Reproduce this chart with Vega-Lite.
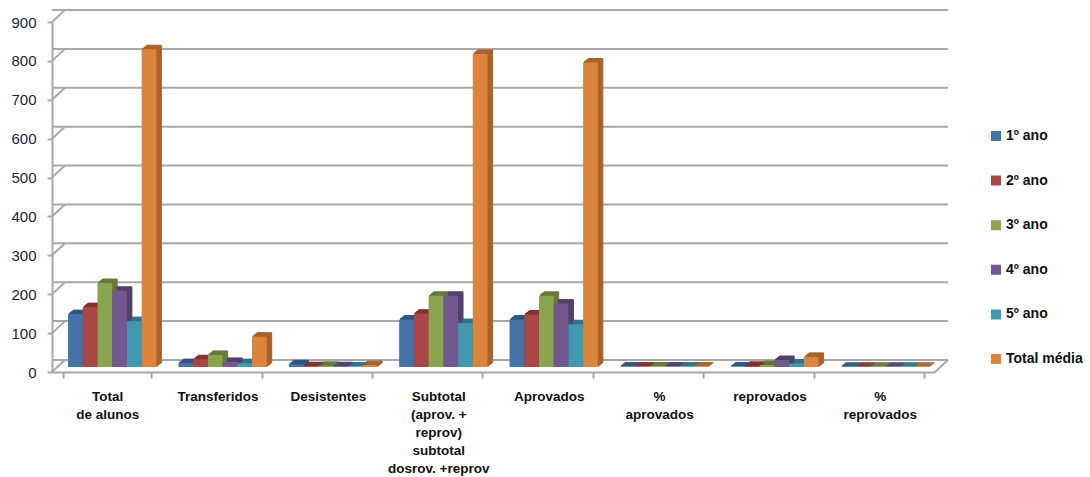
{"$schema":"https://vega.github.io/schema/vega-lite/v6.json","width":883,"height":350,"autosize":"none","padding":{"left":52,"top":22,"right":155,"bottom":105},"background":"white",
"datasets":{"grid":[{"v":0},{"v":100},{"v":200},{"v":300},{"v":400},{"v":500},{"v":600},{"v":700},{"v":800},{"v":900}],
"floor":[{"v":0}],
"bars":[
{"c":"Total|de alunos","s":"1º ano","v":136},{"c":"Total|de alunos","s":"2º ano","v":154},{"c":"Total|de alunos","s":"3º ano","v":216},{"c":"Total|de alunos","s":"4º ano","v":196},{"c":"Total|de alunos","s":"5º ano","v":118},{"c":"Total|de alunos","s":"Total média","v":817},
{"c":"Transferidos","s":"1º ano","v":10},{"c":"Transferidos","s":"2º ano","v":20},{"c":"Transferidos","s":"3º ano","v":31},{"c":"Transferidos","s":"4º ano","v":13},{"c":"Transferidos","s":"5º ano","v":10},{"c":"Transferidos","s":"Total média","v":78},
{"c":"Desistentes","s":"1º ano","v":7},{"c":"Desistentes","s":"2º ano","v":2},{"c":"Desistentes","s":"3º ano","v":3},{"c":"Desistentes","s":"4º ano","v":2},{"c":"Desistentes","s":"5º ano","v":1},{"c":"Desistentes","s":"Total média","v":5},
{"c":"Subtotal|(aprov. +|reprov)|subtotal|dosrov. +reprov","s":"1º ano","v":122},{"c":"Subtotal|(aprov. +|reprov)|subtotal|dosrov. +reprov","s":"2º ano","v":137},{"c":"Subtotal|(aprov. +|reprov)|subtotal|dosrov. +reprov","s":"3º ano","v":183},{"c":"Subtotal|(aprov. +|reprov)|subtotal|dosrov. +reprov","s":"4º ano","v":183},{"c":"Subtotal|(aprov. +|reprov)|subtotal|dosrov. +reprov","s":"5º ano","v":113},{"c":"Subtotal|(aprov. +|reprov)|subtotal|dosrov. +reprov","s":"Total média","v":805},
{"c":"Aprovados","s":"1º ano","v":122},{"c":"Aprovados","s":"2º ano","v":135},{"c":"Aprovados","s":"3º ano","v":183},{"c":"Aprovados","s":"4º ano","v":163},{"c":"Aprovados","s":"5º ano","v":110},{"c":"Aprovados","s":"Total média","v":783},
{"c":"%|aprovados","s":"1º ano","v":0.9},{"c":"%|aprovados","s":"2º ano","v":0.9},{"c":"%|aprovados","s":"3º ano","v":0.9},{"c":"%|aprovados","s":"4º ano","v":0.9},{"c":"%|aprovados","s":"5º ano","v":0.9},{"c":"%|aprovados","s":"Total média","v":0.9},
{"c":"reprovados","s":"1º ano","v":1},{"c":"reprovados","s":"2º ano","v":3},{"c":"reprovados","s":"3º ano","v":5},{"c":"reprovados","s":"4º ano","v":18},{"c":"reprovados","s":"5º ano","v":9},{"c":"reprovados","s":"Total média","v":26},
{"c":"%|reprovados","s":"1º ano","v":0.1},{"c":"%|reprovados","s":"2º ano","v":0.1},{"c":"%|reprovados","s":"3º ano","v":0.1},{"c":"%|reprovados","s":"4º ano","v":0.1},{"c":"%|reprovados","s":"5º ano","v":0.1},{"c":"%|reprovados","s":"Total média","v":0.1}
]},
"config":{"view":{"stroke":null},"axis":{"labelOverlap":false}},
"encoding":{"y":{"field":"v","type":"quantitative","scale":{"domain":[0,900]},"axis":{"values":[0,100,200,300,400,500,600,700,800,900],"tickCount":10,"grid":false,"title":null,"domainColor":"#a8a8a8","domainWidth":2,"tickColor":"#a8a8a8","tickWidth":2,"tickSize":5,"labelFont":"Liberation Sans","labelFontSize":15,"labelColor":"#1c2433","labelPadding":11,"labelOverlap":false}}},
"layer":[
{"data":{"name":"grid"},"mark":{"type":"rule","color":"#a8a8a8","strokeWidth":2,"xOffset":13,"x2Offset":13,"yOffset":-12,"y2Offset":-12},"encoding":{}},
{"data":{"name":"grid"},"mark":{"type":"rule","color":"#a8a8a8","strokeWidth":2,"y2Offset":-12},"encoding":{"x":{"value":0},"x2":{"value":13},"y2":{"field":"v"}}},
{"data":{"name":"floor"},"mark":{"type":"rule","color":"#a8a8a8","strokeWidth":2,"y2Offset":-12},"encoding":{"x":{"value":883},"x2":{"value":896},"y2":{"field":"v"}}},
{"data":{"name":"bars"},"layer":[
{"mark":{"type":"bar","strokeWidth":1,"yOffset":-6,"y2Offset":-6},"encoding":{"xOffset":{"field":"s","type":"nominal","sort":["1º ano","2º ano","3º ano","4º ano","5º ano","Total média"],"scale":{"paddingInner":0,"paddingOuter":0,"range":[6.25,94.55]}},"color":{"field":"s","type":"nominal","legend":null,"scale":{"domain":["1º ano","2º ano","3º ano","4º ano","5º ano","Total média"],"range":["#2f5580","#7f3331","#64793a","#50406a","#2f7287","#a8622b"]}},"stroke":{"field":"s","type":"nominal","legend":null,"scale":{"domain":["1º ano","2º ano","3º ano","4º ano","5º ano","Total média"],"range":["#2f5580","#7f3331","#64793a","#50406a","#2f7287","#a8622b"]}}}},
{"mark":{"type":"bar","strokeWidth":1,"yOffset":-7,"y2Offset":-7},"encoding":{"xOffset":{"field":"s","type":"nominal","sort":["1º ano","2º ano","3º ano","4º ano","5º ano","Total média"],"scale":{"paddingInner":0,"paddingOuter":0,"range":[7.5,95.8]}},"color":{"field":"s","type":"nominal","legend":null,"scale":{"domain":["1º ano","2º ano","3º ano","4º ano","5º ano","Total média"],"range":["#2f5580","#7f3331","#64793a","#50406a","#2f7287","#a8622b"]}},"stroke":{"field":"s","type":"nominal","legend":null,"scale":{"domain":["1º ano","2º ano","3º ano","4º ano","5º ano","Total média"],"range":["#2f5580","#7f3331","#64793a","#50406a","#2f7287","#a8622b"]}}}},
{"mark":{"type":"bar","strokeWidth":1,"yOffset":-8,"y2Offset":-8},"encoding":{"xOffset":{"field":"s","type":"nominal","sort":["1º ano","2º ano","3º ano","4º ano","5º ano","Total média"],"scale":{"paddingInner":0,"paddingOuter":0,"range":[8.75,97.05]}},"color":{"field":"s","type":"nominal","legend":null,"scale":{"domain":["1º ano","2º ano","3º ano","4º ano","5º ano","Total média"],"range":["#2f5580","#7f3331","#64793a","#50406a","#2f7287","#a8622b"]}},"stroke":{"field":"s","type":"nominal","legend":null,"scale":{"domain":["1º ano","2º ano","3º ano","4º ano","5º ano","Total média"],"range":["#2f5580","#7f3331","#64793a","#50406a","#2f7287","#a8622b"]}}}},
{"mark":{"type":"bar","strokeWidth":1,"yOffset":-9,"y2Offset":-9},"encoding":{"xOffset":{"field":"s","type":"nominal","sort":["1º ano","2º ano","3º ano","4º ano","5º ano","Total média"],"scale":{"paddingInner":0,"paddingOuter":0,"range":[10,98.3]}},"color":{"field":"s","type":"nominal","legend":null,"scale":{"domain":["1º ano","2º ano","3º ano","4º ano","5º ano","Total média"],"range":["#2f5580","#7f3331","#64793a","#50406a","#2f7287","#a8622b"]}},"stroke":{"field":"s","type":"nominal","legend":null,"scale":{"domain":["1º ano","2º ano","3º ano","4º ano","5º ano","Total média"],"range":["#2f5580","#7f3331","#64793a","#50406a","#2f7287","#a8622b"]}}}},
{"mark":{"type":"bar","yOffset":-5,"y2Offset":-5},"encoding":{"xOffset":{"field":"s","type":"nominal","sort":["1º ano","2º ano","3º ano","4º ano","5º ano","Total média"],"scale":{"paddingInner":0,"paddingOuter":0,"range":[5,93.3]}},"color":{"field":"s","type":"nominal","scale":{"domain":["1º ano","2º ano","3º ano","4º ano","5º ano","Total média"],"range":["#4572a7","#aa4643","#89a54e","#71588f","#4198af","#db843d"]},"legend":{"orient":"none","legendX":937,"legendY":106,"title":null,"symbolType":"square","symbolSize":100,"symbolStrokeWidth":0,"labelFont":"Liberation Sans","labelFontSize":14,"labelFontWeight":"bold","labelColor":"#111111","rowPadding":28.6,"labelOffset":3,"clipHeight":16}}}}
],
"encoding":{
"x":{"field":"c","type":"nominal","sort":null,"scale":{"domain":["Total|de alunos","Transferidos","Desistentes","Subtotal|(aprov. +|reprov)|subtotal|dosrov. +reprov","Aprovados","%|aprovados","reprovados","%|reprovados"],"paddingInner":0.2,"paddingOuter":0.1},"axis":{"title":null,"labelAngle":0,"labelExpr":"split(datum.label,'|')","tickBand":"extent","tickSize":6,"tickColor":"#a8a8a8","tickWidth":2,"domainColor":"#a8a8a8","domainWidth":2,"labelFont":"Liberation Sans","labelFontSize":13.5,"labelFontWeight":"bold","labelColor":"#111111","labelPadding":11,"labelLineHeight":18.2,"labelLimit":0,"labelOverlap":false,"labelBaseline":"top"}}
},
"resolve":{"scale":{"color":"independent","stroke":"independent","xOffset":"independent"}}}
],
"resolve":{"scale":{"color":"independent","stroke":"independent","xOffset":"independent"}}
}
